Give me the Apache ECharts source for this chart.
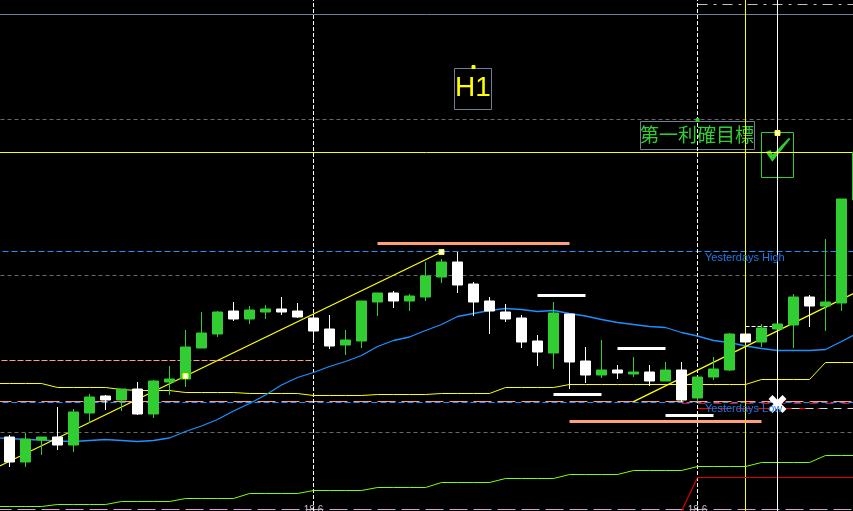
<!DOCTYPE html>
<html><head><meta charset="utf-8">
<style>html,body{margin:0;padding:0;background:#000;overflow:hidden}#c{width:853px;height:511px}</style>
<script src="https://cdn.jsdelivr.net/npm/echarts@6/dist/echarts.min.js"></script>
</head><body><div id="c"></div>
<script>
// Category labels: one slot per hourly bar; index 0 lies just off the left edge.
const tickLabels = {20:'18 6', 44:'18 6'};
const opens  = [null,74,49,71,74,66,98,115,111,122,97,129,132,163,177,200,192,199,202,200,193,182,166,170,209,218,210,214,234,249,227,210,199,193,170,158,197,150,136,141,137,139,130,141,113,134,141,177,169,182,186,214,205,208,311];
const closes = [null,49,72,74,66,99,114,111,122,97,130,132,164,178,199,192,201,202,199,194,180,165,171,210,218,210,215,235,249,226,209,200,192,169,159,198,149,136,141,138,139,130,141,111,134,142,177,169,183,187,214,205,209,312,359];
const lows   = [null,44,44,56,61,59,88,101,100,96,93,116,124,163,174,190,187,192,196,193,171,162,156,163,195,203,200,210,228,218,195,177,189,163,145,142,122,128,133,132,134,125,130,109,109,131,140,169,164,182,163,184,180,200,311];
const highs  = [null,76,78,74,104,102,117,116,122,129,131,145,181,199,200,209,205,206,214,208,197,196,181,210,218,220,217,249,252,259,229,214,207,196,176,209,197,164,171,146,154,146,149,149,134,154,178,177,187,187,217,216,272,312,359];
const blueMA = [73,72.5,71.5,71,70,69.5,70.5,71.5,70.5,69.5,70.5,73,79.5,85,91.5,100,107.5,116,126,133.5,138.5,144.5,149.5,155.5,164.5,170.5,174,180.5,186.5,194.5,197.5,200.5,202.5,201.5,199.5,200.5,197.5,195,191.5,188.5,186.5,184.5,183.5,178.5,175,170.5,168.5,165,162.5,160.5,160.5,160.5,161.5,169.5,178];
const yellowBand = [127.5,127.5,127.5,127.5,123.5,123.5,123.5,123.5,121.5,120.5,120.5,120.5,118.5,118.5,118.5,118.5,117.5,117.5,117.5,117.5,115.5,115.5,115.5,115.5,116.5,116.5,116.5,116.5,117.5,117.5,117.5,117.5,123.5,123.5,123.5,123.5,126.5,126.5,126.5,126.5,126.5,126.5,126.5,126.5,126.5,126.5,126.5,126.5,131.5,131.5,131.5,131.5,148.5,148.5,148.5];
const limeBand = [4.5,4.5,4.5,4.5,6.5,6.5,6.5,6.5,9.5,9.5,9.5,9.5,12.5,12.5,12.5,12.5,17.5,17.5,17.5,17.5,20.5,20.5,20.5,20.5,23.5,23.5,23.5,23.5,28.5,28.5,28.5,28.5,32.5,32.5,32.5,32.5,36.5,36.5,36.5,36.5,40.5,40.5,40.5,40.5,44.5,44.5,44.5,44.5,48.5,48.5,48.5,48.5,55.5,55.5,55.5];
// Trend lines as [bar, price]
const trendUp1 = [[0,42],[12,135],[28,259]];
const trendUp2 = [[40,109.3],[54,219.5]];
const redRamp = [[43,0],[44,33.5],[54,33.5]];
// Levels as [firstBar, lastBar, price]
const slateLevel = [0,54,496.5], grayLevels = [391.5,235.5,78.5];
const topDashDot = [44,54,506.5];
const yellowLevel = [0,54,358.5];
const blueLevels = [259.5,108.5];
const salmonShort = [0,20,150.5], salmonLong = [0,54,109.5];
const plumLevel = [0,54,1.5];
const redDash1 = [43,54,107.5], redDash2 = [44,52,102.5], whiteDash1 = [49,54,102.5], whiteDash2 = [47,49,184.5];
const salmonSegs = [[24,36,267.5],[36,48,89.5]];
const whiteSegs = [[34,37,215.5],[39,42,162.5],[35,38,116.5],[42,45,95.5]];
const dashedVerticals = [20,44], yellowVertical = 47, whiteVertical = 49;
const anchorsWhite = [[12,135],[28,259],[49,378]];
const anchorH1 = [[30,444]], anchorGreen = [[44,391]];
const crossMark = [[49,107]];

const categories = opens.map((_,i)=>tickLabels[i]||'');
const seg = (a,b,v)=>[[a,v],[b,v]];
function line(data, color, width, dash, z){
  return {type:'line',data,symbol:'none',silent:true,animation:false,z:z||2,clip:true,
    lineStyle:{color,width:width||1,type:dash||'solid'},emphasis:{disabled:true}};
}
const series = [];
grayLevels.forEach(v=>series.push(line(seg(0,54,v),'#696969',1,[4,3])));
series.push(line(seg(slateLevel[0],slateLevel[1],slateLevel[2]),'#708090',1));
series.push(line(seg(topDashDot[0],topDashDot[1],topDashDot[2]),'#c0c0c0',1,[10,6,3,6]));
series.push(line(seg(salmonShort[0],salmonShort[1],salmonShort[2]),'#ffa07a',1,[6,2]));
series.push(line(seg(salmonLong[0],salmonLong[1],salmonLong[2]),'#ffa07a',1,[18,6]));
blueLevels.forEach(v=>series.push(line(seg(0,54,v),'#1e90ff',1,[6,3])));
series.push(line(seg(0,54,plumLevel[2]),'#dda0dd',1,[18,6]));
series.push(line(seg(redDash1[0],redDash1[1],redDash1[2]),'#ff0000',1,[8,8]));
series.push(line(seg(redDash2[0],redDash2[1],redDash2[2]),'#ff0000',1,[14,6]));
series.push(line(seg(whiteDash1[0],whiteDash1[1],whiteDash1[2]),'#d8d8d8',1,[8,6]));
series.push(line(seg(whiteDash2[0],whiteDash2[1],whiteDash2[2]),'#ffffff',1,[4,2]));
dashedVerticals.forEach(i=>series.push(line([[i,0],[i,511]],'#ffffff',1,[4,2])));
series.push(line([[yellowVertical,0],[yellowVertical,511]],'#ffff00',1));
series.push(line(redRamp,'#e00000',1.2));
series.push({type:'candlestick',data:opens.map((o,i)=>o===null?['-','-','-','-']:[o,closes[i],lows[i],highs[i]]),
  barWidth:10,silent:true,animation:false,
  itemStyle:{color:'#32cd32',color0:'#ffffff',borderColor:'#32cd32',borderColor0:'#ffffff',borderWidth:1}});
series.push(line(yellowBand.map((v,i)=>[i,v]),'#ffff00',1));
series.push(line(limeBand.map((v,i)=>[i,v]),'#7fff00',1));
series.push(line(blueMA.map((v,i)=>[i,v]),'#1e90ff',1.3));
series.push(line(seg(yellowLevel[0],yellowLevel[1],yellowLevel[2]),'#ffff00',1));
series.push(line(trendUp1,'#ffff00',1.3));
series.push(line(trendUp2,'#ffff00',1.3));
salmonSegs.forEach(s=>series.push(line(seg(s[0],s[1],s[2]),'#ffa07a',3)));
whiteSegs.forEach(s=>series.push(line(seg(s[0],s[1],s[2]),'#ffffff',3)));
series.push(line([[whiteVertical,0],[whiteVertical,511]],'#ffffff',1));
const pts=(data,fill,border,size)=>({type:'scatter',data,symbol:'rect',symbolSize:size||5,silent:true,animation:false,
  itemStyle:{color:fill,borderColor:border,borderWidth:1,opacity:1},z:3});
series.push(pts(anchorsWhite,'#ffffff','#ffff00'));
series.push(pts(anchorH1,'#ffff00','#ffff00',3));
series.push(pts(anchorGreen,'#32cd32','#32cd32',3));
series.push({type:'scatter',data:crossMark,silent:true,animation:false,z:4,symbolSize:18,
  symbol:'path://M22 0L50 28L78 0L100 22L72 50L100 78L78 100L50 72L22 100L0 78L28 50L0 22Z',itemStyle:{color:'#ffffff',opacity:1}});

const chart = echarts.init(document.getElementById('c'),null,{renderer:'canvas'});
chart.setOption({
  backgroundColor:'#000000',animation:false,
  grid:{left:-14.5,top:0,width:880,height:511,containLabel:false,outerBoundsMode:'none'},
  xAxis:{type:'category',data:categories,boundaryGap:true,axisLine:{show:false},axisTick:{show:false},splitLine:{show:false},
    axisLabel:{interval:0,margin:-6,color:'#c0c0c0',fontSize:10,fontFamily:'Liberation Sans'}},
  yAxis:{type:'value',min:0,max:511,show:false,splitLine:{show:false}},
  graphic:[
    {type:'rect',z:1,shape:{x:454.5,y:68.5,width:37,height:41},style:{fill:'transparent',stroke:'#708090',lineWidth:1}},
    {type:'text',z:1,x:473,y:88,style:{text:'H1',fill:'#ffff00',font:'28px "Liberation Sans"',align:'center',verticalAlign:'middle'}},
    {type:'rect',z:1,shape:{x:640.5,y:121.5,width:114,height:28},style:{fill:'transparent',stroke:'#708090',lineWidth:1}},
    {type:'text',z:1,x:697,y:134.5,style:{text:'第一利確目標',fill:'#32cd32',font:'19px "Noto Sans CJK JP"',align:'center',verticalAlign:'middle'}},
    {type:'rect',z:1,shape:{x:761.5,y:132.5,width:32,height:45},style:{fill:'transparent',stroke:'#32cd32',lineWidth:1}},
    {type:'polygon',z:1,shape:{points:[[765.7,152],[770.5,150],[772.7,154.5],[789,137.8],[790.3,139],[772.3,161.7]]},style:{fill:'#32cd32'}},
    {type:'text',z:5,x:705,y:258,style:{text:'Yesterdays High',fill:'#1e78e6',font:'11px "Liberation Sans"',align:'left',verticalAlign:'middle'}},
    {type:'text',z:5,x:705,y:409,style:{text:'Yesterdays Low',fill:'#1e78e6',font:'11px "Liberation Sans"',align:'left',verticalAlign:'middle'}}
  ],
  series
});
</script></body></html>
